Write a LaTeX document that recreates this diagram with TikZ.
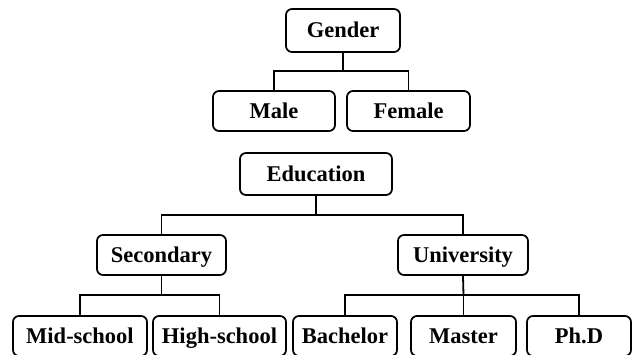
\documentclass[tikz,border=0pt]{standalone}
\usepackage{fontspec}
\setmainfont{Liberation Serif}
\begin{document}
\begin{tikzpicture}[x=1pt,y=-1pt,
  box/.style={draw=black, line width=1.7pt, rounded corners=6pt, fill=white,
    inner sep=0pt, minimum height=40pt, text height=17pt, text depth=3pt,
    font=\fontsize{22.5}{26}\selectfont\bfseries, text=black},
  link/.style={draw=black, line width=1.8pt}]
  \clip (0,0) rectangle (635,354);
  \fill[white] (0,0) rectangle (635,354);

  % gender branch
  \node[box, minimum width=114pt, minimum height=43pt] (gender) at (343,30.5) {Gender};
  \node[box, minimum width=122pt] (male)   at (274,111)   {Male};
  \node[box, minimum width=123pt] (female) at (408.5,111) {Female};

  % education branch
  \node[box, minimum width=152pt, minimum height=42pt] (edu) at (316,174) {Education};
  \node[box, minimum width=129pt] (sec) at (161.5,255) {Secondary};
  \node[box, minimum width=130pt] (uni) at (463,255)   {University};

  \node[box, minimum width=134pt] (mid)  at (80,336)    {Mid-school};
  \node[box, minimum width=133pt] (high) at (219.5,336) {High-school};
  \node[box, minimum width=104pt] (bach) at (345,336)   {Bachelor};
  \node[box, minimum width=105pt] (mast) at (463.5,336) {Master};
  \node[box, minimum width=104pt] (phd)  at (579,336)   {Ph.D};

  % junction points of the tree connectors
  \coordinate (gbar) at (343,71);
  \coordinate (ebar) at (316,215);
  \coordinate (sbar) at (161.5,295);
  \coordinate (ubar) at (463.5,295);

  \draw[link] (gender.south) -- (gbar);
  \draw[link] (male.north) |- (gbar) -| (female.north);

  \draw[link] (edu.south) -- (ebar);
  \draw[link] (sec.north) |- (ebar) -| (uni.north);

  \draw[link] (sec.south) -- (sbar);
  \draw[link] (mid.north) |- (sbar) -| (high.north);

  \draw[link] (uni.south) -- (ubar);
  \draw[link] (bach.north) |- (ubar) -| (phd.north);
  \draw[link] (mast.north) -- (ubar);
\end{tikzpicture}
\end{document}
